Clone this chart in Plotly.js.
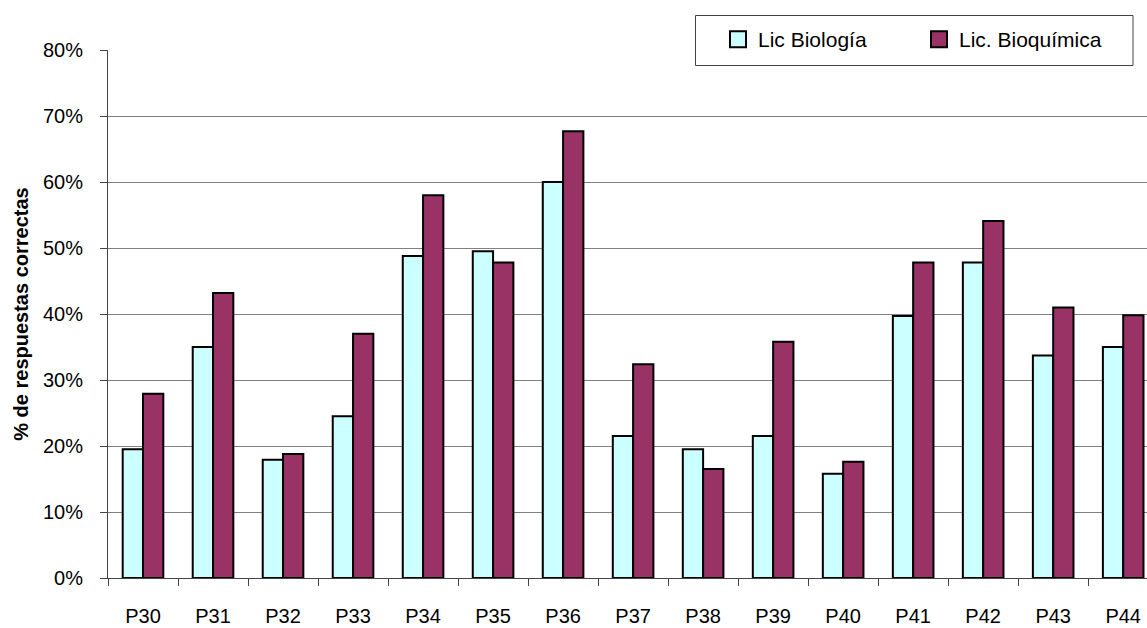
<!DOCTYPE html>
<html><head><meta charset="utf-8">
<script src="https://cdn.plot.ly/plotly-3.0.1.min.js"></script>
<style>html,body{margin:0;padding:0;background:#fff}#chart{width:1147px;height:628px}</style>
</head><body><div id="chart"></div>
<script>
const categories = ["P30","P31","P32","P33","P34","P35","P36","P37","P38","P39","P40","P41","P42","P43","P44"];
const bioValues  = [0.195,0.350,0.179,0.245,0.488,0.495,0.600,0.215,0.195,0.215,0.158,0.397,0.478,0.337,0.350];
const bioqValues = [0.279,0.432,0.188,0.370,0.580,0.478,0.677,0.324,0.165,0.358,0.176,0.478,0.541,0.410,0.398];
const seriesNames = ["Lic Biología","Lic. Bioquímica"];
const seriesColors = ["#CCFFFF","#993366"];

const fam = "Arial, 'Liberation Sans', sans-serif";
const tickFont = {family:fam, size:20, color:"#000"};
const traces = [
  {type:"bar", x:categories, y:bioValues, name:seriesNames[0], showlegend:false,
   marker:{color:seriesColors[0], line:{color:"#000", width:2}}},
  {type:"bar", x:categories, y:bioqValues, name:seriesNames[1], showlegend:false,
   marker:{color:seriesColors[1], line:{color:"#000", width:2}}},
  {type:"scatter", mode:"markers", x:[null], y:[null], name:seriesNames[0], showlegend:true,
   marker:{symbol:"square", size:16, color:seriesColors[0], line:{color:"#000", width:2}}},
  {type:"scatter", mode:"markers", x:[null], y:[null], name:seriesNames[1], showlegend:true,
   marker:{symbol:"square", size:16, color:seriesColors[1], line:{color:"#000", width:2}}}
];
const W = 1039, H = 528, L = 108, T = 50;
const layout = {
  width:1147, height:628,
  margin:{l:L, r:0, t:T, b:50},
  paper_bgcolor:"#fff", plot_bgcolor:"#fff",
  font:{family:fam, size:16, color:"#000"},
  barmode:"group", bargap:0.42, bargroupgap:0,
  showlegend:true,
  legend:{orientation:"h", x:(718-L)/W, xanchor:"left", y:(T+H-19)/H, yanchor:"top",
          bgcolor:"rgba(0,0,0,0)", borderwidth:0,
          font:{family:fam, size:21, color:"#000"},
          entrywidth:156, traceorder:"normal", itemsizing:"trace"},
  shapes:[{type:"rect", xref:"paper", yref:"paper", layer:"above",
           x0:(695.5-L)/W, x1:(1133-L)/W, y0:(T+H-65.5)/H, y1:(T+H-15.5)/H,
           fillcolor:"#fff", line:{color:"#444", width:1}}],
  xaxis:{type:"category", range:[-0.5,14.34], showline:true, linecolor:"#444", linewidth:1,
         ticks:"outside", tickson:"boundaries", ticklen:7, tickcolor:"#444",
         ticklabelstandoff:20, tickfont:tickFont, showgrid:false, fixedrange:true},
  yaxis:{range:[0,0.8], dtick:0.1, tickformat:".0%", showline:true, linecolor:"#444", linewidth:1,
         ticks:"outside", ticklen:7, tickcolor:"#444", tickfont:tickFont, ticklabelstandoff:13,
         showgrid:true, gridcolor:"#808080", gridwidth:1, zeroline:false,
         title:{text:"<b>% de respuestas correctas</b>", font:{family:fam, size:20, color:"#000"}, standoff:8}}
};
Plotly.newPlot("chart", traces, layout, {displayModeBar:false, staticPlot:true});
</script></body></html>
